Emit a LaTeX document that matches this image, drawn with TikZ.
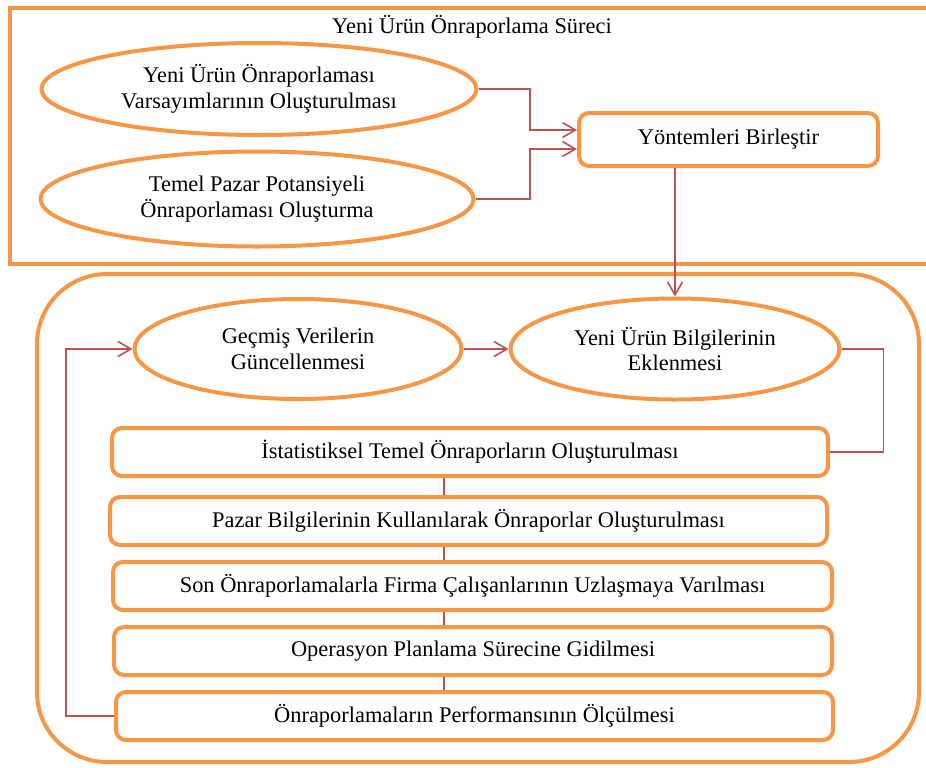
\documentclass[tikz,border=0pt]{standalone}
\usepackage{fontspec}
\setmainfont{Liberation Serif}
\usetikzlibrary{arrows.meta}
\usetikzlibrary{shapes}
\usetikzlibrary{positioning}
\definecolor{accentorange}{HTML}{F79646}
\definecolor{accentred}{HTML}{C0504D}
\tikzset{
	phase/.style={ellipse,draw=accentorange,line width=2pt,align=center,inner sep=0pt},
	stage/.style={rectangle,rounded corners=5pt,draw=accentorange,line width=2pt,align=center,inner sep=0pt,minimum height=24pt},
	frame/.style={draw=accentorange,line width=2pt},
	link/.style={draw=accentred,line width=0.8pt},
	flow/.style={link,-{Straight Barb[length=6.5pt,width=7.5pt]}}
}

\begin{document}
\begin{tikzpicture}[x=0.5pt,y=-0.5pt,font=\fontsize{11.2}{12.8}\selectfont]
	\useasboundingbox (0,0) rectangle (926,767);
	% upper frame
	\draw[frame] (10,8) rectangle (940,264);
	\node (Title) at (472,27) {Yeni Ürün Önraporlama Süreci};
	\node[phase,minimum width=217.5pt,minimum height=46pt] (Varsayim) at (259,89) {Yeni Ürün Önraporlaması\\Varsayımlarının Oluşturulması};
	\node[phase,minimum width=216.5pt,minimum height=47.5pt] (Potansiyel) at (257,199) {Temel Pazar Potansiyeli\\Önraporlaması Oluşturma};
	\node[stage,minimum width=149.5pt,minimum height=26.5pt] (Birlestir) at (728.5,139.5) {Yöntemleri Birleştir};
	\draw[flow] (Varsayim.east) -- ++(51.5,0) |- ([yshift=4.75pt]Birlestir.west);
	\draw[flow] (Potansiyel.east) -- ++(54.5,0) |- ([yshift=-4.75pt]Birlestir.west);
	% lower frame
	\draw[frame,rounded corners=35pt] (37,274) rectangle (919,762);
	\node[phase,minimum width=163.5pt,minimum height=50pt] (Gecmis) at (298,349) {Geçmiş Verilerin\\Güncellenmesi};
	\node[phase,minimum width=164.5pt,minimum height=50.5pt] (Bilgi) at (675,349) {Yeni Ürün Bilgilerinin\\Eklenmesi};
	\node[stage,minimum width=358pt] (Istatistik) at (470,452) {İstatistiksel Temel Önraporların Oluşturulması};
	\node[stage,minimum width=358.5pt] (Pazar) at (468.5,521) {Pazar Bilgilerinin Kullanılarak Önraporlar Oluşturulması};
	\node[stage,minimum width=359.5pt] (Uzlasma) at (472.5,586) {Son Önraporlamalarla Firma Çalışanlarının Uzlaşmaya Varılması};
	\node[stage,minimum width=359pt] (Operasyon) at (473,651) {Operasyon Planlama Sürecine Gidilmesi};
	\node[stage,minimum width=358.5pt] (Performans) at (474.5,716) {Önraporlamaların Performansının Ölçülmesi};
	\coordinate (Spine) at (444,0);
	\draw[flow] (Bilgi.north |- Birlestir.south) -- (Bilgi.north);
	\draw[flow] (Gecmis.east) -- (Bilgi.west);
	\draw[link] (Bilgi.east) -- ++(42,0) |- (Istatistik.east);
	\foreach \a/\b in {Istatistik/Pazar,Pazar/Uzlasma,Uzlasma/Operasyon,Operasyon/Performans}
		\draw[link] (Spine |- \a.south) -- (Spine |- \b.north);
	\draw[flow] (Performans.west) -- ++(-48,0) |- (Gecmis.west);
\end{tikzpicture}
\end{document}
